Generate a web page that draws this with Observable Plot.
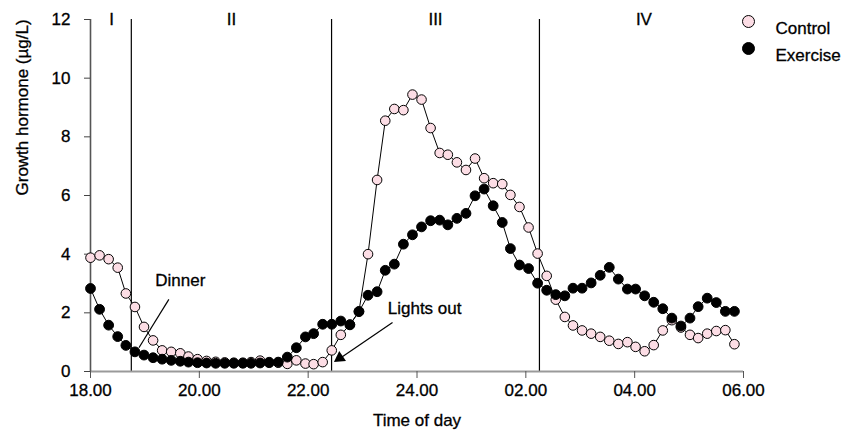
<!DOCTYPE html>
<html><head><meta charset="utf-8">
<script src="https://cdn.jsdelivr.net/npm/d3@7"></script>
<script src="https://cdn.jsdelivr.net/npm/@observablehq/plot@0.6"></script>
<style>body{margin:0;background:#fff} #chart svg text{stroke:#000;stroke-width:0.3px}</style>
</head><body><div id="chart"></div>
<script>
// sample times, minutes after 18.00
const minutes = [0,10,20,30,39,49,59,69,79,89,99,108,118,128,138,148,158,168,177,187,197,207,217,227,237,246,256,266,276,286,296,306,316,325,335,345,355,365,375,385,394,404,414,424,434,444,454,463,473,483,493,503,513,523,532,542,552,562,572,582,592,601,611,621,631,641,651,661,670,680,690,700,710];
const control = [3.88,3.96,3.83,3.54,2.66,2.20,1.52,1.06,0.72,0.67,0.62,0.51,0.42,0.36,0.33,0.31,0.30,0.30,0.32,0.37,0.32,0.30,0.26,0.38,0.27,0.25,0.32,0.72,1.25,1.60,2.05,4.00,6.53,8.55,8.95,8.91,9.44,9.27,8.30,7.45,7.39,7.13,6.87,7.26,6.59,6.42,6.39,6.02,5.61,4.91,4.02,3.26,2.45,1.86,1.57,1.40,1.29,1.18,1.05,0.94,1.00,0.84,0.69,0.90,1.40,1.75,1.50,1.25,1.14,1.29,1.38,1.41,0.93];
const exercise = [2.83,2.12,1.58,1.19,0.89,0.67,0.56,0.47,0.42,0.38,0.35,0.32,0.30,0.29,0.28,0.28,0.28,0.28,0.28,0.29,0.30,0.32,0.49,0.81,1.18,1.29,1.61,1.61,1.72,1.59,2.04,2.60,2.72,3.45,3.66,4.34,4.66,4.93,5.14,5.16,5.00,5.22,5.39,5.99,6.22,5.65,5.08,4.19,3.63,3.51,3.01,2.77,2.62,2.58,2.84,2.84,3.02,3.28,3.55,3.15,2.81,2.81,2.58,2.36,2.14,1.82,1.55,1.82,2.21,2.50,2.35,2.05,2.05];
const tickHours = [18,20,22,24,26,28,30];
const tickLabels = ["18.00","20.00","22.00","24.00","02.00","04.00","06.00"];
const yTicks = [0,2,4,6,8,10,12];
const phaseBounds = [18.75,22.43,26.25];
const phaseNames = ["I","II","III","IV"];
const phaseCentres = [18.39,20.59,24.34,28.17];
const seriesNames = ["Control","Exercise"];
const seriesFill = ["#fcdde5","#000000"];
const annotations = [
  {label:"Dinner", x:19.65, y:3.10, x1:19.44, y1:2.46, x2:18.89, y2:0.81},
  {label:"Lights out", x:24.14, y:2.16, x1:23.55, y1:1.67, x2:22.56, y2:0.42}
];
const arrowHead = [{x:22.58, y:0.46}];

const toHour = m => 18 + m / 60;
const ctl = minutes.map((m,i)=>({t:toHour(m), v:control[i]}));
const exe = minutes.map((m,i)=>({t:toHour(m), v:exercise[i]}));
const phases = phaseNames.map((n,i)=>({n, x:phaseCentres[i]}));

const font = "'Liberation Sans', Arial, Helvetica, sans-serif";
const fs = 17;

const legendMarks = seriesNames.flatMap((name,i)=>[
  Plot.dot([name], {frameAnchor:"top-right", dx:5, dy:2 + i*27, r:6, fill:seriesFill[i], stroke:"black", strokeWidth:1}),
  Plot.text([name], {text:d=>d, frameAnchor:"top-right", dx:32, dy:2 + i*27, textAnchor:"start", fontSize:fs, fill:"black"})
]);

const chart = Plot.plot({
  width:849, height:439,
  marginLeft:90, marginRight:106, marginTop:19, marginBottom:68,
  style:{fontFamily:font, fontSize:fs+"px", background:"white", overflow:"visible"},
  x:{domain:[18,30]},
  y:{domain:[0,12]},
  marks:[
    Plot.ruleX(phaseBounds, {y1:0, y2:12, stroke:"black", strokeWidth:1.2}),
    Plot.ruleY([0], {stroke:"#9a9a9a", strokeWidth:2}),
    Plot.ruleX([18], {y1:0, y2:12, stroke:"#555", strokeWidth:1.6}),
    Plot.axisX({ticks:tickHours, tickFormat:d=>tickLabels[tickHours.indexOf(d)], tickSize:7, tickPadding:5, stroke:"#555", fill:"black", fontSize:fs, label:null}),
    Plot.axisY({ticks:yTicks, tickSize:6, tickPadding:14, stroke:"#444", fill:"black", fontSize:fs, label:null}),
    Plot.text(phases, {x:"x", y:12, text:"n", fontSize:fs, fill:"black"}),
    Plot.link(annotations, {x1:"x1", y1:"y1", x2:"x2", y2:"y2", stroke:"black", strokeWidth:1.2}),
    Plot.dot(arrowHead, {x:"x", y:"y", symbol:"triangle", rotate:236, r:4.5, fill:"black"}),
    Plot.line(ctl, {x:"t", y:"v", stroke:"black", strokeWidth:1}),
    Plot.line(exe, {x:"t", y:"v", stroke:"black", strokeWidth:1}),
    Plot.dot(ctl, {x:"t", y:"v", r:4.8, fill:seriesFill[0], stroke:"black", strokeWidth:1}),
    Plot.dot(exe, {x:"t", y:"v", r:4.9, fill:seriesFill[1], stroke:"black", strokeWidth:1}),
    Plot.text(annotations, {x:"x", y:"y", text:"label", fontSize:fs, fill:"black"}),
    Plot.text(["Time of day"], {text:d=>d, frameAnchor:"bottom", dy:54, fontSize:fs, fill:"black"}),
    Plot.text(["Growth hormone (µg/L)"], {text:d=>d, frameAnchor:"left", rotate:-90, dx:-68, fontSize:fs, fill:"black"}),
    ...legendMarks
  ]
});
document.getElementById("chart").appendChild(chart);
</script>
</body></html>
